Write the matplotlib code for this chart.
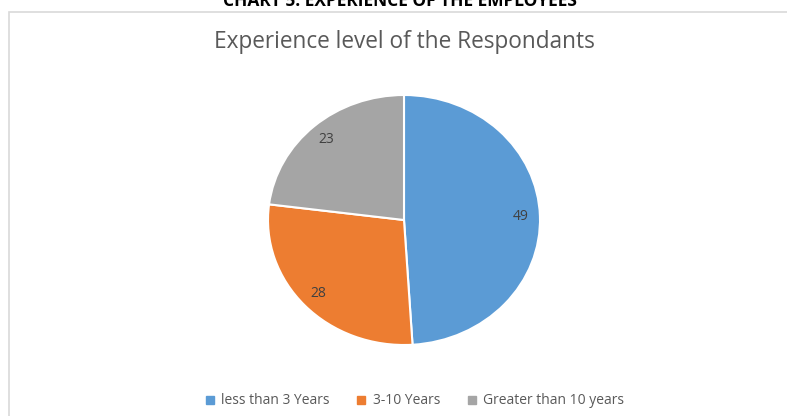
import matplotlib

matplotlib.use("Agg")
import matplotlib.pyplot as plt
from matplotlib.lines import Line2D
from matplotlib.patches import Rectangle

categories = ["less than 3 Years", "3-10 Years", "Greater than 10 years"]
counts = [49, 28, 23]
colors = ["#5B9BD5", "#ED7D31", "#A5A5A5"]

W, H = 787, 416
fig = plt.figure(figsize=(W / 100, H / 100), dpi=100)
plt.rcParams["font.family"] = ["Open Sans", "DejaVu Sans"]

# cadre gris du graphique (sort a droite et en bas)
fig.patches.append(
    Rectangle((8.5 / W, -0.1), 1.2, (H - 11.5) / H + 0.1,
              transform=fig.transFigure, fill=False, edgecolor="#d9d9d9", lw=1.2)
)

# en-tete du document, coupe en haut
fig.text(400 / W, 1 - 0.5 / H, "CHART 5: EXPERIENCE OF THE EMPLOYEES",
         ha="center", va="center", fontsize=12.5, fontweight="bold", color="black")

fig.text(404 / W, 1 - 42 / H, "Experience level of the Respondants",
         ha="center", va="center", fontsize=16.3, color="#595959")

# camembert legerement etire en largeur
ax = fig.add_axes([268 / W, 1 - 345 / H, 272 / W, 250 / H])
total = sum(counts)
wedges, texts, autotexts = ax.pie(
    counts,
    colors=colors,
    startangle=90,
    counterclock=False,
    autopct=lambda p: f"{round(p * total / 100)}",
    pctdistance=0.86,
    wedgeprops=dict(edgecolor="white", linewidth=1.5),
    textprops=dict(fontsize=10, color="#404040"),
    radius=1.0,
)
ax.set_aspect("auto")
ax.set_xlim(-1, 1)
ax.set_ylim(-1, 1)
ax.axis("off")

handles = [
    Line2D([], [], marker="s", linestyle="none", markersize=5.5,
           markerfacecolor=c, markeredgecolor=c)
    for c in colors
]
fig.legend(handles, categories, loc="center", bbox_to_anchor=(410 / W, 1 - 401 / H),
           ncol=3, frameon=False, fontsize=10, handletextpad=-0.2,
           columnspacing=1.3, labelcolor="#595959")

fig.savefig("out.png", dpi=100)
